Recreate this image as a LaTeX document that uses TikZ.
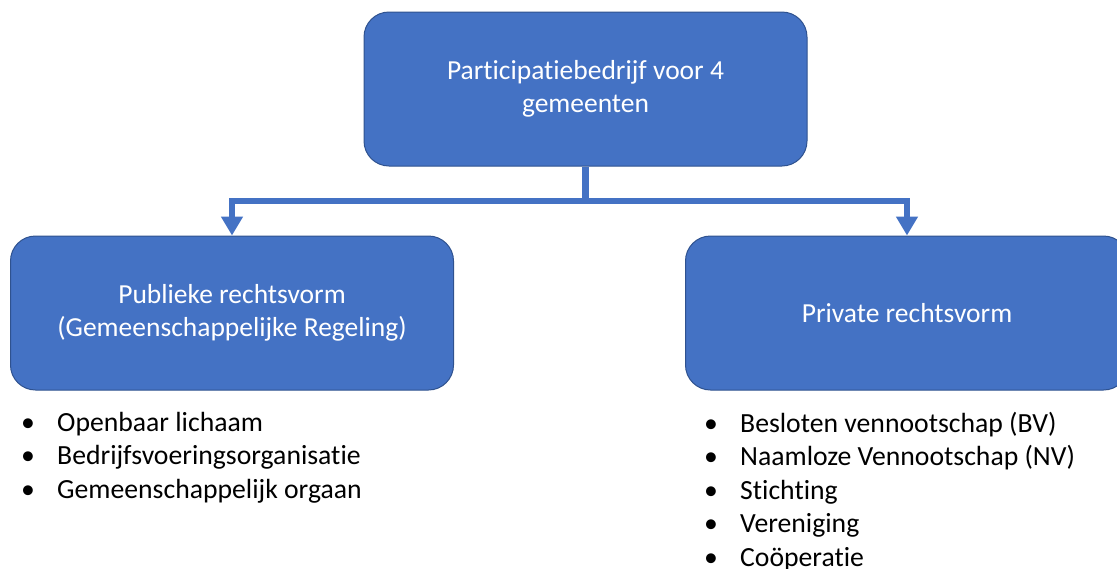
\documentclass[tikz,border=0pt]{standalone}
\usepackage{fontspec}
\setmainfont{Carlito}[Ligatures={NoCommon,NoContextual}]
\usetikzlibrary{arrows.meta}
\definecolor{boxfill}{HTML}{4472C4}
\definecolor{boxline}{HTML}{2F528F}
\tikzset{
  orgbox/.style={rectangle, rounded corners=25pt, fill=boxfill, draw=boxline, line width=1pt,
    minimum width=443pt, minimum height=154pt, text=white, align=center,
    font=\fontsize{27.5pt}{33pt}\selectfont, inner sep=0pt},
  link/.style={draw=boxfill, line width=6.5pt},
  tip/.style={-{Triangle[width=21pt,length=19pt]}},
  itemlist/.style={anchor=north west, align=left, inner sep=0pt, text=black,
    font=\fontsize{27.7pt}{33.4pt}\selectfont}
}
\newcommand{\bul}{\makebox[36pt][l]{•}}
\begin{document}
\begin{tikzpicture}[x=1pt,y=-1pt]
\useasboundingbox (0,0) rectangle (1117,568);
\clip (0,0) rectangle (1117,568);
\node[orgbox] (top) at (585.5,89) {Participatiebedrijf voor 4\\gemeenten};
\node[orgbox] (pub) at (232,313) {Publieke rechtsvorm\\(Gemeenschappelijke Regeling)};
\node[orgbox] (priv) at (907,313) {Private rechtsvorm};
\coordinate (j) at (585.5,201);
\draw[link] (top.south) -- (j);
\draw[link, tip, line join=miter] (j) -| (pub.north);
\draw[link, tip, line join=miter] (j) -| (priv.north);
\node[itemlist] (publist) at (21,412) {\bul Openbaar lichaam\\\bul Bedrijfsvoeringsorganisatie\\\bul Gemeenschappelijk orgaan};
\node[itemlist] (privlist) at (704,412) {\bul Besloten vennootschap (BV)\\\bul Naamloze Vennootschap (NV)\\\bul Stichting\\\bul Vereniging\\\bul Coöperatie};
\end{tikzpicture}
\end{document}
